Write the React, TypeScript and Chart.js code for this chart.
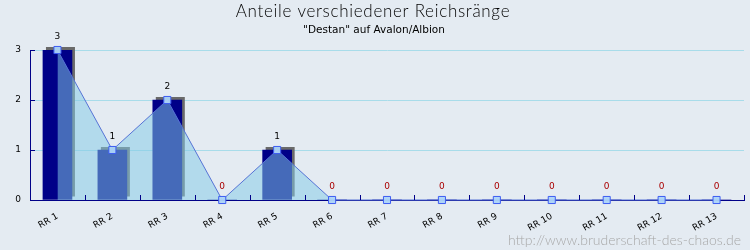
import React, { useEffect, useRef } from 'react';
import { Chart, registerables } from 'chart.js';

Chart.register(...registerables);

const categories = ['RR 1', 'RR 2', 'RR 3', 'RR 4', 'RR 5', 'RR 6', 'RR 7', 'RR 8', 'RR 9', 'RR 10', 'RR 11', 'RR 12', 'RR 13'];
const counts = [3, 1, 2, 0, 1, 0, 0, 0, 0, 0, 0, 0, 0];
const yMax = 3;
const titleText = 'Anteile verschiedener Reichsränge';
const subtitleText = '"Destan" auf Avalon/Albion';
const watermarkText = 'http://www.bruderschaft-des-chaos.de';

const BG = '#e4ebf2';
const NAVY = '#000088';
const GRID = '#a8dcea';
const TICK_FONT = '"DejaVu Sans", sans-serif';

const decorPlugin = {
  id: 'decor',
  beforeDraw(chart: any) {
    const ctx = chart.ctx;
    ctx.save();
    ctx.fillStyle = BG;
    ctx.fillRect(0, 0, chart.width, chart.height);
    ctx.textAlign = 'center';
    ctx.textBaseline = 'middle';
    ctx.fillStyle = '#000';
    ctx.font = '300 17px Lato, sans-serif';
    (ctx as any).letterSpacing = '0.7px';
    ctx.fillText(titleText, 373, 12);
    (ctx as any).letterSpacing = '0px';
    ctx.fillStyle = '#000';
    ctx.font = '10.5px ' + TICK_FONT;
    ctx.fillText(subtitleText, 374, 30);
    ctx.textAlign = 'right';
    ctx.fillStyle = '#a8a8a8';
    ctx.font = '300 14px Lato, sans-serif';
    ctx.fillText(watermarkText, 741, 240);
    ctx.restore();
  },
  beforeDatasetsDraw(chart: any) {
    const ctx = chart.ctx;
    const meta = chart.getDatasetMeta(0);
    ctx.save();
    ctx.fillStyle = '#6a6a6a';
    meta.data.forEach((bar: any) => {
      const { x, y, width, base } = bar.getProps(['x', 'y', 'width', 'base'], true);
      if (Math.abs(base - y) < 0.5) return;
      ctx.fillRect(x - width / 2 + 3, y - 3, width, base - y);
    });
    ctx.restore();
  },
  afterDatasetsDraw(chart: any) {
    const ctx = chart.ctx;
    const xs = chart.scales.x;
    const ys = chart.scales.y;
    ctx.save();
    ctx.strokeStyle = NAVY;
    ctx.lineWidth = 1;
    const n = categories.length;
    const step = (xs.right - xs.left) / n;
    ctx.beginPath();
    for (let i = 1; i <= n; i++) {
      const px = Math.round(xs.left + i * step) + 0.5;
      ctx.moveTo(px, ys.bottom);
      ctx.lineTo(px, ys.bottom - 5);
    }
    for (let v = 1; v <= yMax; v++) {
      const py = Math.round(ys.getPixelForValue(v)) + 0.5;
      ctx.moveTo(xs.left, py);
      ctx.lineTo(xs.left + 5, py);
    }
    ctx.stroke();
    const meta = chart.getDatasetMeta(1);
    ctx.font = '9px ' + TICK_FONT;
    ctx.textAlign = 'center';
    ctx.textBaseline = 'middle';
    meta.data.forEach((pt: any, i: number) => {
      const v = counts[i];
      ctx.fillStyle = v > 0 ? '#000' : '#aa0000';
      ctx.fillText(String(v), pt.x, pt.y - 13);
    });
    ctx.restore();
  },
};

export default function App() {
  const ref = useRef<HTMLCanvasElement>(null);
  useEffect(() => {
    const chart = new Chart(ref.current as HTMLCanvasElement, {
      type: 'bar',
      data: {
        labels: categories,
        datasets: [
          {
            type: 'bar',
            data: counts,
            backgroundColor: NAVY,
            borderWidth: 0,
            barThickness: 29,
            order: 2,
          } as any,
          {
            type: 'line',
            data: counts,
            fill: 'origin',
            backgroundColor: 'rgba(133,204,230,0.52)',
            borderColor: '#5673d6',
            borderWidth: 1,
            tension: 0,
            pointStyle: 'rect',
            pointRadius: 5,
            pointBackgroundColor: 'rgba(172,212,248,0.95)',
            pointBorderColor: '#3d5cf2',
            pointBorderWidth: 1,
            clip: false,
            order: 1,
          } as any,
        ],
      },
      options: {
        responsive: false,
        animation: false,
        devicePixelRatio: 1,
        layout: { padding: { top: 50, right: 5, left: 0, bottom: 0 } },
        plugins: {
          legend: { display: false },
          tooltip: { enabled: false },
          title: { display: false },
        },
        scales: {
          x: {
            type: 'category',
            offset: true,
            grid: { display: false, drawTicks: false },
            border: { display: true, color: NAVY, width: 1 },
            ticks: {
              minRotation: 30,
              maxRotation: 30,
              autoSkip: false,
              padding: 11,
              color: '#000',
              font: { family: TICK_FONT, size: 9 },
            },
            afterFit: (s: any) => { s.height = 50; },
          },
          y: {
            min: 0,
            max: yMax,
            ticks: {
              stepSize: 1,
              padding: 9,
              color: '#000',
              font: { family: TICK_FONT, size: 9 },
            },
            grid: {
              drawTicks: false,
              color: (c: any) => (c.tick && c.tick.value === 0 ? 'rgba(0,0,0,0)' : GRID),
            },
            border: { display: true, color: NAVY, width: 1 },
            afterFit: (s: any) => { s.width = 30; },
          },
        },
      },
      plugins: [decorPlugin],
    });
    return () => chart.destroy();
  }, []);
  return (
    <div style={{ position: 'fixed', left: 0, top: 0, width: 750, height: 250 }}>
      <canvas ref={ref} width={750} height={250} style={{ display: 'block' }} />
    </div>
  );
}
